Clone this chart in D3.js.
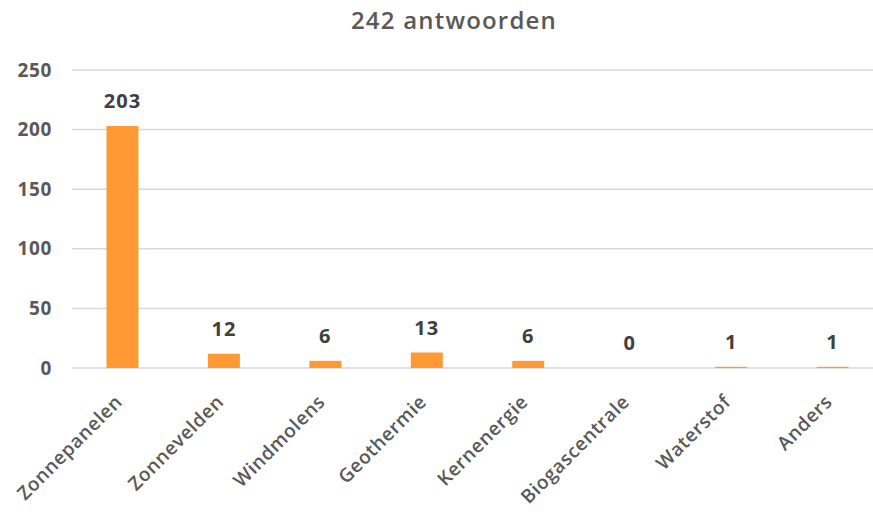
<!DOCTYPE html>
<html><head><meta charset="utf-8">
<script src="https://cdn.jsdelivr.net/npm/d3@7"></script>
<style>html,body{margin:0;padding:0;background:#fff;}svg{display:block;}</style>
</head><body>
<svg id="c" width="873" height="512"></svg>
<script>
const categories = ["Zonnepanelen","Zonnevelden","Windmolens","Geothermie","Kernenergie","Biogascentrale","Waterstof","Anders"];
const values = [203, 12, 6, 13, 6, 0, 1, 1];
const yTicks = [0, 50, 100, 150, 200, 250];
const title = "242 antwoorden";

const svg = d3.select("#c");
const font = "'Open Sans', 'Liberation Sans', sans-serif";
const x = d3.scaleBand().domain(categories).range([72, 883]).paddingInner(0.685).paddingOuter(0.34);
const y = d3.scaleLinear().domain([0, 250]).range([368, 70]);

svg.append("text").attr("x", 454).attr("y", 29).attr("text-anchor", "middle")
  .attr("font-family", font).attr("font-size", 24).attr("font-weight", 600)
  .attr("letter-spacing", 1.2).attr("fill", "#595959").text(title);

const grid = svg.append("g");
grid.selectAll("line").data(yTicks).join("line")
  .attr("x1", 72).attr("x2", 873).attr("y1", d => y(d)).attr("y2", d => y(d))
  .attr("stroke", "#d9d9d9").attr("stroke-width", 1.5);

const yAxis = svg.append("g").attr("transform", "translate(52,0)")
  .call(d3.axisLeft(y).tickValues(yTicks).tickSize(0).tickPadding(0));
yAxis.select(".domain").remove();
yAxis.selectAll("text").attr("font-family", font).attr("font-size", 19).attr("font-weight", 700)
  .attr("letter-spacing", 0.6).attr("fill", "#595959");

svg.append("g").selectAll("rect").data(values).join("rect")
  .attr("x", (d, i) => x(categories[i]))
  .attr("width", x.bandwidth())
  .attr("y", d => y(d)).attr("height", d => y(0) - y(d))
  .attr("fill", "#ff9933");

svg.append("g").selectAll("text").data(values).join("text")
  .attr("x", (d, i) => x(categories[i]) + x.bandwidth() / 2)
  .attr("y", d => y(d) - 18)
  .attr("text-anchor", "middle")
  .attr("font-family", font).attr("font-size", 20).attr("font-weight", 700)
  .attr("letter-spacing", 1).attr("fill", "#404040")
  .text(d => d);

const xAxis = svg.append("g").attr("transform", "translate(0,368)")
  .call(d3.axisBottom(x).tickSize(0).tickPadding(0));
xAxis.select(".domain").remove();
xAxis.selectAll("text")
  .attr("font-family", font).attr("font-size", 19).attr("font-weight", 600).attr("fill", "#595959")
  .attr("letter-spacing", 0.6)
  .attr("text-anchor", "end").attr("dy", 0).attr("y", 0)
  .attr("transform", "translate(1,35) rotate(-45)");
</script>
</body></html>
